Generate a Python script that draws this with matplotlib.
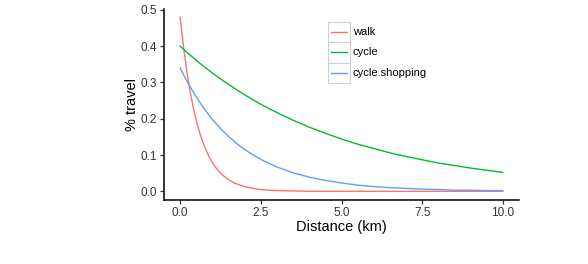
import matplotlib
matplotlib.use("Agg")
import matplotlib.pyplot as plt
from matplotlib.patches import Rectangle

# ----------------------------------
# Values
# ----------------------------------
# walk falls steeply, so it is read at a finer spacing
walk_distance = [0.0, 0.1, 0.2, 0.3, 0.4, 0.5, 0.6, 0.7, 0.8, 0.9, 1.0,
                 1.1, 1.2, 1.3, 1.4, 1.5, 1.6, 1.7, 1.8, 1.9, 2.0,
                 2.25, 2.5, 2.75, 3.0, 3.5, 4.0, 5.0, 6.0, 7.0, 8.0, 9.0, 10.0]
walk = [0.480, 0.401, 0.335, 0.280, 0.234, 0.195, 0.163, 0.136, 0.114, 0.095, 0.079,
        0.066, 0.055, 0.046, 0.039, 0.032, 0.027, 0.022, 0.019, 0.016, 0.013,
        0.008, 0.005, 0.003, 0.002, 0.001, 0.000, 0.000, 0.000, 0.000, 0.000, 0.000, 0.000]

distance = [0, 0.25, 0.5, 0.75, 1.0, 1.25, 1.5, 1.75, 2.0, 2.25, 2.5, 2.75, 3.0,
            3.5, 4.0, 4.5, 5.0, 5.5, 6.0, 6.5, 7.0, 7.5, 8.0, 8.5, 9.0, 9.5, 10.0]

cycle = [0.400, 0.380, 0.361, 0.343, 0.326, 0.310, 0.295, 0.280, 0.266, 0.253,
         0.240, 0.228, 0.217, 0.196, 0.177, 0.160, 0.144, 0.130, 0.118, 0.106,
         0.096, 0.087, 0.078, 0.071, 0.064, 0.058, 0.052]

cycle_shopping = [0.340, 0.297, 0.260, 0.227, 0.198, 0.173, 0.151, 0.132, 0.115,
                  0.101, 0.088, 0.077, 0.067, 0.051, 0.039, 0.030, 0.023, 0.017,
                  0.013, 0.010, 0.008, 0.006, 0.005, 0.003, 0.003, 0.002, 0.002]

series_names = ["walk", "cycle", "cycle.shopping"]
series_colors = ["#F8766D", "#00BA38", "#619CFF"]
x_ticks = [0.0, 2.5, 5.0, 7.5, 10.0]
y_ticks = [0.0, 0.1, 0.2, 0.3, 0.4, 0.5]

plt.rcParams["font.family"] = ["Liberation Sans", "DejaVu Sans"]

W, H = 588, 264
fig = plt.figure(figsize=(W / 100, H / 100), dpi=100)

# main panel (pixel placement matched to the reference)
left, right, bottom, top = 164, 519, 200, 8.5
ax = fig.add_axes([left / W, 1 - bottom / H, (right - left) / W, (bottom - top) / H])

series_x = [walk_distance, distance, distance]
series_y = [walk, cycle, cycle_shopping]
for xs, ys, name, col in zip(series_x, series_y, series_names, series_colors):
    ax.plot(xs, ys, color=col, lw=1.0, label=name)

ax.set_xlim(-0.5, 10.5)
ax.set_ylim(-0.024, 0.504)
ax.set_xticks(x_ticks)
ax.set_xticklabels([f"{t:.1f}" for t in x_ticks])
ax.set_yticks(y_ticks)
ax.set_yticklabels([f"{t:.1f}" for t in y_ticks])

for s in ["top", "right"]:
    ax.spines[s].set_visible(False)
for s in ["left", "bottom"]:
    ax.spines[s].set_linewidth(1.1)
    ax.spines[s].set_color("black")

ax.tick_params(axis="both", length=3, width=0.9, color="#333333",
               labelsize=8.5, labelcolor="#333333", pad=2)
ax.set_xlabel("Distance (km)", fontsize=10.5, labelpad=1)
ax.set_ylabel("% travel", fontsize=10.5, labelpad=1)

# ----------------------------------
# Legend with boxed keys
# ----------------------------------
key_x, key_w, key_h = 328, 22, 20.3
key_y0 = 22
for i, (name, col) in enumerate(zip(series_names, series_colors)):
    y = key_y0 + i * key_h
    rect = Rectangle((key_x / W, 1 - (y + key_h) / H), key_w / W, key_h / H,
                     transform=fig.transFigure, facecolor="white",
                     edgecolor="#d0d0d0", lw=0.8)
    fig.patches.append(rect)
    yc = 1 - (y + key_h / 2) / H
    fig.add_artist(plt.Line2D([(key_x + 3) / W, (key_x + key_w - 3) / W], [yc, yc],
                              transform=fig.transFigure, color=col, lw=1.0))
    fig.text((key_x + key_w + 3) / W, yc, name, fontsize=8, va="center",
             ha="left", color="black")

fig.savefig("out.png", dpi=100)
